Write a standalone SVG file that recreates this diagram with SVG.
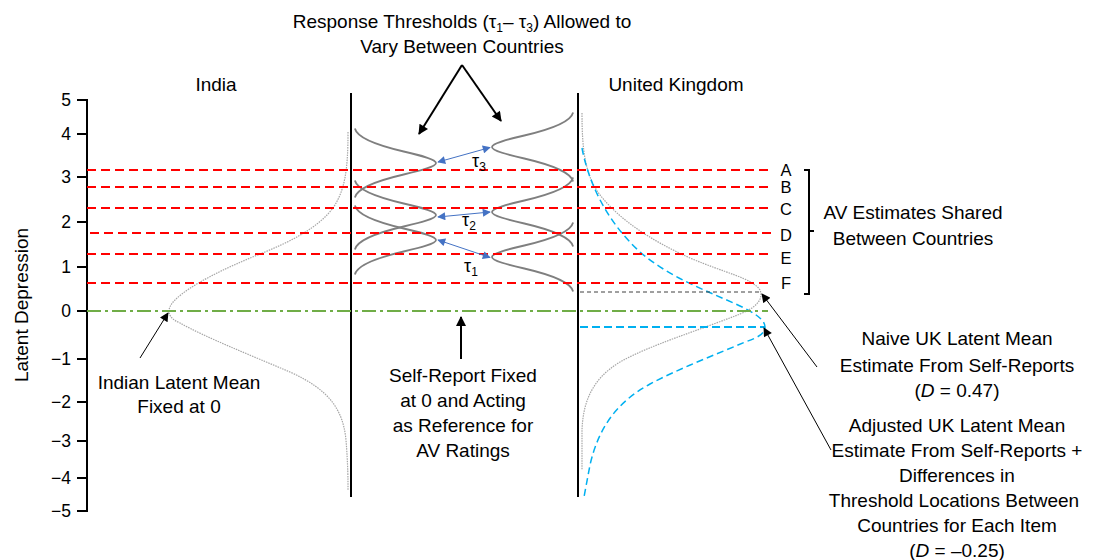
<svg xmlns="http://www.w3.org/2000/svg" width="1095" height="560" viewBox="0 0 1095 560">
<style>
text{font-family:"Liberation Sans",Arial,sans-serif;fill:#000}
.t19{font-size:19px}
.tick{font-size:17.5px;text-anchor:end}
.let{font-size:16.5px;text-anchor:middle}
.c{text-anchor:middle}
.red{stroke:#FF0000;stroke-width:2;stroke-dasharray:9 5;fill:none}
.thr{stroke:#7F7F7F;stroke-width:1.8;fill:none}
.dens{stroke:#A6A6A6;stroke-width:1.2;stroke-dasharray:1.5 1;fill:none}
.blue{stroke:#00B0F0;stroke-width:1.5;stroke-dasharray:7 4;fill:none}
.vl{stroke:#000;stroke-width:2;fill:none}
.tau{stroke:#4472C4;stroke-width:1;fill:none;marker-start:url(#bh);marker-end:url(#bh)}
</style>
<defs>
<marker id="ah" viewBox="0 0 10 10" refX="9" refY="5" markerWidth="11" markerHeight="9" markerUnits="userSpaceOnUse" orient="auto-start-reverse"><path d="M0,0 L10,5 L0,10 z" fill="#000"/></marker>
<marker id="ahb" viewBox="0 0 10 10" refX="9" refY="5" markerWidth="13" markerHeight="10" markerUnits="userSpaceOnUse" orient="auto-start-reverse"><path d="M0,0 L10,5 L0,10 z" fill="#000"/></marker>
<marker id="bh" viewBox="0 0 10 10" refX="9" refY="5" markerWidth="10" markerHeight="8" markerUnits="userSpaceOnUse" orient="auto-start-reverse"><path d="M0,0 L10,5 L0,10 z" fill="#4472C4"/></marker>
</defs>

<g id="axis">
<line x1="87" y1="99" x2="87" y2="512" class="vl"/>
<path d="M77,100H87M77,134H87M77,177H87M77,222H87M77,267H87M77,311H87M77,359H87M77,402H87M77,441H87M77,478H87M77,511H87" stroke="#000" stroke-width="2"/>
<text class="tick" x="71" y="106">5</text>
<text class="tick" x="71" y="140">4</text>
<text class="tick" x="71" y="183">3</text>
<text class="tick" x="71" y="228">2</text>
<text class="tick" x="71" y="273">1</text>
<text class="tick" x="71" y="317">0</text>
<text class="tick" x="71" y="365">−1</text>
<text class="tick" x="71" y="408">−2</text>
<text class="tick" x="71" y="447">−3</text>
<text class="tick" x="71" y="484">−4</text>
<text class="tick" x="71" y="517">−5</text>
<text class="t19 c" transform="translate(28,305) rotate(-90)">Latent Depression</text>
</g>

<g id="country-lines">
<line x1="351" y1="93" x2="351" y2="497" class="vl"/>
<line x1="578" y1="93" x2="578" y2="497" class="vl"/>
<text class="t19 c" x="216" y="91">India</text>
<text class="t19 c" x="676" y="91">United Kingdom</text>
</g>

<g id="densities">
<path class="dens" d="M348,132 C348,170 345,190 333,208 C318,228 290,242 260,254 C225,268 190,285 175,300 C165,310 168,318 180,323 C205,337 250,355 290,372 C330,390 343,410 346,440 C348,465 348,480 348,490"/>
<path class="dens" d="M582,113 C582,150 585,175 600,195 C620,220 650,240 690,258 C725,273 752,278 760,290 C764,300 755,308 740,314 C700,330 650,345 620,362 C590,380 583,405 582,430 L582,470"/>
<path class="blue" d="M582,148 C588,180 605,220 640,252 C670,278 710,292 740,306 C755,313 765,320 765,327 C765,334 757,338 745,342 C715,355 680,368 650,384 C615,403 598,430 590,465 L584,497"/>
</g>

<g id="thresholds-india">
<path class="thr" d="M354.9,128.5 C356.7,136.2 370.6,143.8 403.7,151.5 C420.3,155.3 436,159.2 436,163 C436,166.8 420.3,170.7 403.7,174.5 C370.6,182.2 356.7,189.8 354.9,197.5"/>
<path class="thr" d="M354.9,180.5 C356.7,188.2 370.6,195.8 403.7,203.5 C420.3,207.3 436,211.2 436,215 C436,218.8 420.3,222.7 403.7,226.5 C370.6,234.2 356.7,241.8 354.9,249.5"/>
<path class="thr" d="M354.9,205.5 C356.7,213.2 370.6,220.8 403.7,228.5 C420.3,232.3 436,236.2 436,240 C436,243.8 420.3,247.7 403.7,251.5 C370.6,259.2 356.7,266.8 354.9,274.5"/>
</g>

<g id="thresholds-uk">
<path class="thr" d="M573.1,112.5 C571.3,120.2 557.4,127.8 524.3,135.5 C507.7,139.3 492,143.2 492,147 C492,150.8 507.7,154.7 524.3,158.5 C557.4,166.2 571.3,173.8 573.1,181.5"/>
<path class="thr" d="M573.1,177.5 C571.3,185.2 557.4,192.8 524.3,200.5 C507.7,204.3 492,208.2 492,212 C492,215.8 507.7,219.7 524.3,223.5 C557.4,231.2 571.3,238.8 573.1,246.5"/>
<path class="thr" d="M573.1,222.5 C571.3,230.2 557.4,237.8 524.3,245.5 C507.7,249.3 492,253.2 492,257 C492,260.8 507.7,264.7 524.3,268.5 C557.4,276.2 571.3,283.8 573.1,291.5"/>
</g>

<g id="av-lines">
<line class="red" x1="87" y1="170" x2="773" y2="170"/>
<line class="red" x1="87" y1="187" x2="773" y2="187"/>
<line class="red" x1="87" y1="208" x2="773" y2="208"/>
<line class="red" x1="90" y1="233" x2="773" y2="233"/>
<line class="red" x1="87" y1="254" x2="773" y2="254"/>
<line class="red" x1="87" y1="283" x2="773" y2="283"/>
<text class="let" x="786" y="176">A</text>
<text class="let" x="786" y="193">B</text>
<text class="let" x="786" y="215">C</text>
<text class="let" x="786" y="241">D</text>
<text class="let" x="786" y="264">E</text>
<text class="let" x="786" y="289">F</text>
<path d="M804,170H809V294H804M809,231H814" stroke="#000" stroke-width="2" fill="none"/>
</g>

<g id="mean-lines">
<line x1="87" y1="311" x2="768" y2="311" stroke="#70AD47" stroke-width="1.8" stroke-dasharray="14 4 3 4"/>
<line x1="580" y1="292" x2="760" y2="292" stroke="#404040" stroke-width="1" stroke-dasharray="4 3"/>
<line x1="580" y1="327" x2="765" y2="327" stroke="#00B0F0" stroke-width="1.8" stroke-dasharray="8 4"/>
</g>

<g id="tau-labels">
<text x="472" y="167" font-size="18">τ<tspan font-size="12" dy="4">3</tspan></text>
<text x="462" y="226" font-size="18">τ<tspan font-size="12" dy="4">2</tspan></text>
<text x="464" y="272" font-size="18">τ<tspan font-size="12" dy="4">1</tspan></text>
</g>

<g id="title">
<text class="t19 c" x="462" y="28">Response Thresholds (τ<tspan font-size="12" dy="4">1</tspan><tspan dy="-4">– τ</tspan><tspan font-size="12" dy="4">3</tspan><tspan dy="-4">) Allowed to</tspan></text>
<text class="t19 c" x="462" y="53">Vary Between Countries</text>
</g>

<g id="label-av">
<text class="t19 c" x="913" y="219">AV Estimates Shared</text>
<text class="t19 c" x="913" y="245">Between Countries</text>
</g>

<g id="label-india">
<text class="t19 c" x="179" y="389">Indian Latent Mean</text>
<text class="t19 c" x="179" y="413">Fixed at 0</text>
</g>

<g id="label-self">
<text class="t19 c" x="463" y="382">Self-Report Fixed</text>
<text class="t19 c" x="463" y="407">at 0 and Acting</text>
<text class="t19 c" x="463" y="432">as Reference for</text>
<text class="t19 c" x="463" y="457">AV Ratings</text>
</g>

<g id="label-naive">
<text class="t19 c" x="957" y="345">Naive UK Latent Mean</text>
<text class="t19 c" x="957" y="372">Estimate From Self-Reports</text>
<text class="t19 c" x="957" y="397">(<tspan font-style="italic">D</tspan>  = 0.47)</text>
</g>

<g id="label-adjusted">
<text class="t19 c" x="957" y="432">Adjusted UK Latent Mean</text>
<text class="t19 c" x="957" y="457">Estimate From Self-Reports +</text>
<text class="t19 c" x="957" y="482">Differences in</text>
<text class="t19 c" x="954" y="507">Threshold Locations Between</text>
<text class="t19 c" x="957" y="532">Countries for Each Item</text>
<text class="t19 c" x="957" y="557">(<tspan font-style="italic">D</tspan> = –0.25)</text>
</g>

<g id="connectors">
<line class="tau" x1="438" y1="162" x2="490" y2="147.5"/>
<line class="tau" x1="438" y1="217" x2="490" y2="212"/>
<line class="tau" x1="438" y1="240" x2="490" y2="257.5"/>
<line x1="462" y1="65" x2="419" y2="134" stroke="#000" stroke-width="2" marker-end="url(#ahb)"/>
<line x1="462" y1="65" x2="501" y2="121" stroke="#000" stroke-width="2" marker-end="url(#ahb)"/>
<line x1="140" y1="358" x2="168" y2="313" stroke="#000" stroke-width="1" marker-end="url(#ah)"/>
<line x1="461" y1="359" x2="461" y2="317" stroke="#000" stroke-width="2" marker-end="url(#ahb)"/>
<line x1="817" y1="367" x2="762" y2="294" stroke="#000" stroke-width="1" marker-end="url(#ah)"/>
<line x1="831" y1="450" x2="764" y2="328" stroke="#000" stroke-width="1" marker-end="url(#ah)"/>
</g>
</svg>
